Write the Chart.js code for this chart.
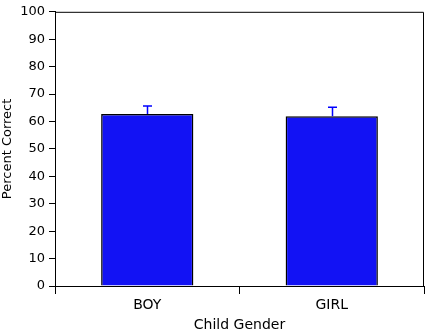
<!DOCTYPE html>
<html>
<head>
<meta charset="utf-8">
<script src="https://cdn.jsdelivr.net/npm/chart.js@4"></script>
<style>
html,body{margin:0;padding:0;background:#fff;}
#wrap{width:426px;height:334px;position:relative;}
</style>
</head>
<body>
<div id="wrap"><canvas id="c" width="426" height="334"></canvas></div>
<script>
const categories = ["BOY", "GIRL"];
const percentCorrect = [62.7, 61.9];
const errorUpper = [2.9, 3.3];
const yTicks = [0, 10, 20, 30, 40, 50, 60, 70, 80, 90, 100];
const yTitle = "Percent Correct";
const xTitle = "Child Gender";

const FONT = "'DejaVu Sans', sans-serif";

const frame = {
  id: 'frame',
  afterDraw(chart) {
    const {ctx, chartArea: a} = chart;
    ctx.save();
    ctx.strokeStyle = '#000';
    ctx.lineWidth = 1;
    ctx.beginPath();
    ctx.moveTo(a.left, a.top + 0.5);
    ctx.lineTo(a.right - 0.5, a.top + 0.5);
    ctx.lineTo(a.right - 0.5, a.bottom);
    ctx.stroke();
    ctx.restore();
  }
};

const errorBars = {
  id: 'errorBars',
  afterDatasetsDraw(chart) {
    const {ctx} = chart;
    const meta = chart.getDatasetMeta(0);
    const ys = chart.scales.y;
    ctx.save();
    ctx.strokeStyle = '#0000ff';
    ctx.lineWidth = 1.5;
    meta.data.forEach((bar, i) => {
      const x = Math.round(bar.x) + 0.5;
      const y0 = ys.getPixelForValue(percentCorrect[i]);
      const y1 = ys.getPixelForValue(percentCorrect[i] + errorUpper[i]);
      ctx.beginPath();
      ctx.moveTo(x, y0);
      ctx.lineTo(x, y1);
      ctx.moveTo(x - 4.5, y1);
      ctx.lineTo(x + 4.5, y1);
      ctx.stroke();
    });
    ctx.restore();
  }
};

new Chart(document.getElementById('c'), {
  type: 'bar',
  data: {
    labels: categories,
    datasets: [{
      data: percentCorrect,
      backgroundColor: '#1212f4',
      borderColor: '#000',
      borderWidth: 1.5,
      borderSkipped: 'bottom',
      barPercentage: 0.5,
      categoryPercentage: 1.0
    }]
  },
  options: {
    responsive: false,
    animation: false,
    devicePixelRatio: 1,
    layout: {padding: {top: 9, right: 2, left: 0, bottom: 0}},
    plugins: {legend: {display: false}, tooltip: {enabled: false}},
    scales: {
      x: {
        offset: true,
        grid: {
          display: true,
          offset: true,
          drawOnChartArea: false,
          drawTicks: true,
          tickLength: 8,
          color: '#000',
          lineWidth: 1
        },
        border: {display: true, color: '#000', width: 1},
        ticks: {color: '#000', font: {family: FONT, size: 14}, padding: 3},
        title: {display: true, text: xTitle, color: '#000', font: {family: FONT, size: 14}, padding: {top: 0, bottom: 0}},
        afterFit(s) { s.height = 48; }
      },
      y: {
        min: 0, max: 100,
        afterBuildTicks(s) { s.ticks = yTicks.map(v => ({value: v})); },
        grid: {
          display: true,
          drawOnChartArea: false,
          drawTicks: true,
          tickLength: 6,
          color: '#000',
          lineWidth: 1
        },
        border: {display: true, color: '#000', width: 1},
        ticks: {color: '#000', font: {family: FONT, size: 13}, padding: 4},
        title: {display: true, text: yTitle, color: '#000', font: {family: FONT, size: 13}, padding: {top: 0, bottom: 4}},
        afterFit(s) { s.width = 55; }
      }
    }
  },
  plugins: [frame, errorBars]
});
</script>
</body>
</html>
